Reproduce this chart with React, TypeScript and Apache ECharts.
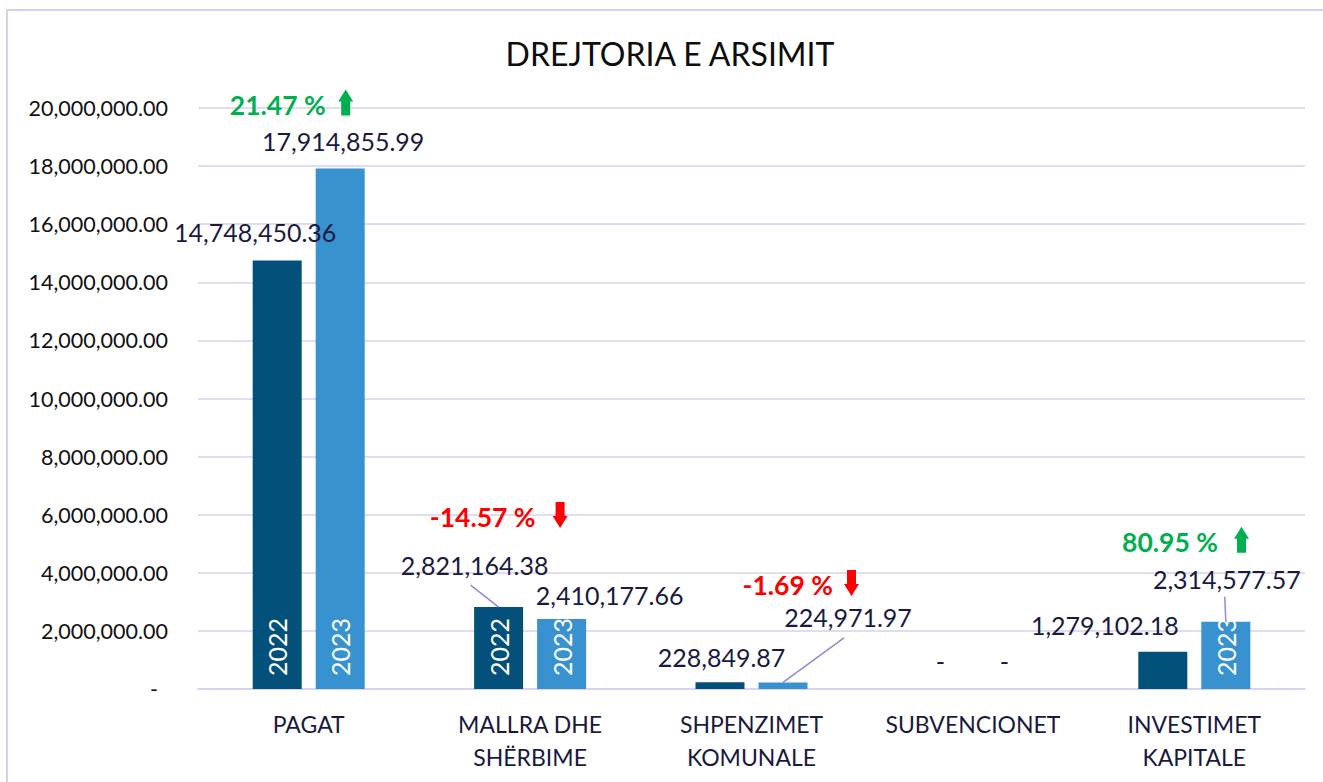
import React, { useEffect, useRef } from 'react';
import * as echarts from 'echarts';

// ---------- DATA ----------
const categories = ['PAGAT', 'MALLRA DHE\nSHËRBIME', 'SHPENZIMET\nKOMUNALE', 'SUBVENCIONET', 'INVESTIMET\nKAPITALE'];
const seriesNames = ['2022', '2023'];
const values2022 = [14748450.36, 2821164.38, 228849.87, 0, 1279102.18];
const values2023 = [17914855.99, 2410177.66, 224971.97, 0, 2314577.57];
const changeLabels = ['21.47 %', '-14.57 %', '-1.69 %', '', '80.95 %'];
const changeUp = [true, false, false, false, true];
const yearShown2022 = [true, true, false, false, false];
const yearShown2023 = [true, true, false, false, true];
const yMin = 0;
const yMax = 20000000;
const yInterval = 2000000;
const chartTitle = 'DREJTORIA E ARSIMIT';

// ---------- LAYOUT / STYLE ----------
const FONT = 'Lato';
const BAR_W = 49;
const BAR_GAP_PX = 14;
const HALF = (BAR_W + BAR_GAP_PX) / 2;
const C2022 = '#03517a';
const C2023 = '#3892cf';
const LABEL_COLOR = '#1a1a40';
const GRID_COLOR = '#d5d1f0';
const LEADER_COLOR = '#8f89d6';
const GREEN = '#00b050';
const RED = '#ff0000';
const LABEL_OFFSETS_2022 = [[-22, -16.5], [-24, -29.5], [1.5, -13], [-1, -15.5], [-58, -14.3]];
const LABEL_OFFSETS_2023 = [[3, -15.5], [48, -11.5], [65, -53], [0, -15.5], [1, -30.3]];
const LEADERS = [
  { cat: 1, side: 0, dx: -28, dy: -22 },
  { cat: 2, side: 1, dx: 61, dy: -44.5 },
  { cat: 4, side: 1, dx: -1, dy: -25 },
];
// arrow centre offset from 2023 bar top-centre, and text right edge offset from arrow centre
const CHANGE_POS: (number[] | null)[] = [[5.5, -66, -20], [-1.5, -104, -24.5], [68.5, -99.5, -18.5], null, [15.7, -82, -23.5]];

const fmt = (v: number) =>
  v.toLocaleString('en-US', { minimumFractionDigits: 2, maximumFractionDigits: 2 });

export default function App() {
  const ref = useRef<HTMLDivElement>(null);
  useEffect(() => {
    if (!ref.current) return;
    const chart = echarts.init(ref.current, undefined, { renderer: 'svg' });
    const valueLabel = {
      show: true,
      position: 'top',
      distance: 0,
      fontSize: 25,
      fontFamily: FONT,
      color: LABEL_COLOR,
      formatter: (p: any) => (p.value === 0 ? '-' : fmt(p.value)),
    };
    const yearData: number[][] = [];
    categories.forEach((_, i) => {
      if (yearShown2022[i]) yearData.push([i, 0]);
      if (yearShown2023[i]) yearData.push([i, 1]);
    });
    const leaderData = LEADERS.map((l) => [l.cat, (l.side ? values2023 : values2022)[l.cat], l.side]);
    const changeData: number[][] = [];
    const changeIdx: number[] = [];
    categories.forEach((_, i) => {
      if (changeLabels[i]) {
        changeData.push([i, values2023[i]]);
        changeIdx.push(i);
      }
    });

    chart.setOption({
      animation: false,
      backgroundColor: '#ffffff',
      graphic: [
        {
          type: 'rect',
          shape: { x: 7, y: 10, width: 1500, height: 1000 },
          style: { fill: 'none', stroke: GRID_COLOR, lineWidth: 2 },
          silent: true,
        },
        {
          type: 'text',
          x: 670,
          y: 53,
          style: {
            text: chartTitle,
            fill: '#0d0d0d',
            fontSize: 32,
            fontFamily: FONT,
            align: 'center',
            verticalAlign: 'middle',
          },
        },
      ],
      grid: { left: 198, right: 18, top: 108, bottom: 93, containLabel: false },
      xAxis: {
        type: 'category',
        data: categories,
        axisLine: { show: true, lineStyle: { color: GRID_COLOR, width: 1.5 } },
        axisTick: { show: false },
        axisLabel: {
          fontSize: 23,
          fontFamily: FONT,
          color: LABEL_COLOR,
          lineHeight: 33,
          margin: 18,
          interval: 0,
        },
      },
      yAxis: {
        type: 'value',
        min: yMin,
        max: yMax,
        interval: yInterval,
        axisLine: { show: false },
        axisTick: { show: false },
        splitLine: { lineStyle: { color: GRID_COLOR, width: 1.5 } },
        axisLabel: {
          fontSize: 21.5,
          fontFamily: FONT,
          color: '#111111',
          margin: 30,
          formatter: (v: number) => (v === 0 ? '{d|-}' : fmt(v)),
          rich: { d: { fontSize: 21.5, fontFamily: FONT, color: '#111111', padding: [0, 10, 0, 0] } },
        },
      },
      series: [
        {
          name: seriesNames[0],
          type: 'bar',
          barWidth: BAR_W,
          barGap: (BAR_GAP_PX / BAR_W) * 100 + '%',
          itemStyle: { color: C2022 },
          label: valueLabel,
          data: values2022.map((v, i) => ({ value: v, label: { offset: LABEL_OFFSETS_2022[i] } })),
        },
        {
          name: seriesNames[1],
          type: 'bar',
          barWidth: BAR_W,
          barGap: (BAR_GAP_PX / BAR_W) * 100 + '%',
          itemStyle: { color: C2023 },
          label: valueLabel,
          data: values2023.map((v, i) => ({ value: v, label: { offset: LABEL_OFFSETS_2023[i] } })),
        },
        {
          type: 'custom',
          name: 'years',
          z: 10,
          clip: false,
          silent: true,
          data: yearData,
          renderItem: (params: any, api: any) => {
            const cat = api.value(0);
            const side = api.value(1);
            const p = api.coord([cat, 0]);
            const x = p[0] + (side ? HALF : -HALF);
            return {
              type: 'text',
              x,
              y: p[1] - 13,
              rotation: Math.PI / 2,
              style: {
                text: seriesNames[side],
                fill: '#ffffff',
                fontSize: 25,
                fontFamily: FONT,
                align: 'left',
                verticalAlign: 'middle',
              },
            };
          },
        },
        {
          type: 'custom',
          name: 'leaders',
          z: 10,
          clip: false,
          silent: true,
          data: leaderData,
          renderItem: (params: any, api: any) => {
            const l = LEADERS[params.dataIndex];
            const p = api.coord([api.value(0), api.value(1)]);
            const x = p[0] + (api.value(2) ? HALF : -HALF);
            return {
              type: 'line',
              shape: { x1: x, y1: p[1], x2: x + l.dx, y2: p[1] + l.dy },
              style: { stroke: LEADER_COLOR, lineWidth: 1.5 },
            };
          },
        },
        {
          type: 'custom',
          name: 'changes',
          z: 10,
          clip: false,
          silent: true,
          data: changeData,
          renderItem: (params: any, api: any) => {
            const i = changeIdx[params.dataIndex];
            const pos = CHANGE_POS[i] as number[];
            const p = api.coord([api.value(0), api.value(1)]);
            const ax = p[0] + HALF + pos[0];
            const ay = p[1] + pos[1];
            const up = changeUp[i];
            const color = up ? GREEN : RED;
            const s = up ? 1 : -1;
            const hw = 7.5, sw = 4.5, hh = 12, h = 13;
            const pts = [
              [ax, ay - s * h],
              [ax + hw, ay - s * (h - hh)],
              [ax + sw, ay - s * (h - hh)],
              [ax + sw, ay + s * h],
              [ax - sw, ay + s * h],
              [ax - sw, ay - s * (h - hh)],
              [ax - hw, ay - s * (h - hh)],
            ];
            return {
              type: 'group',
              children: [
                { type: 'polygon', shape: { points: pts }, style: { fill: color } },
                {
                  type: 'text',
                  x: ax + pos[2],
                  y: ay + 2,
                  style: {
                    text: changeLabels[i],
                    fill: color,
                    fontSize: 26.5,
                    fontWeight: 'bold',
                    fontFamily: FONT,
                    align: 'right',
                    verticalAlign: 'middle',
                  },
                },
              ],
            };
          },
        },
      ],
    });
    return () => chart.dispose();
  }, []);
  return (
    <div
      ref={ref}
      style={{ position: 'fixed', left: 0, top: 0, width: 1323, height: 782, background: '#fff' }}
    />
  );
}
